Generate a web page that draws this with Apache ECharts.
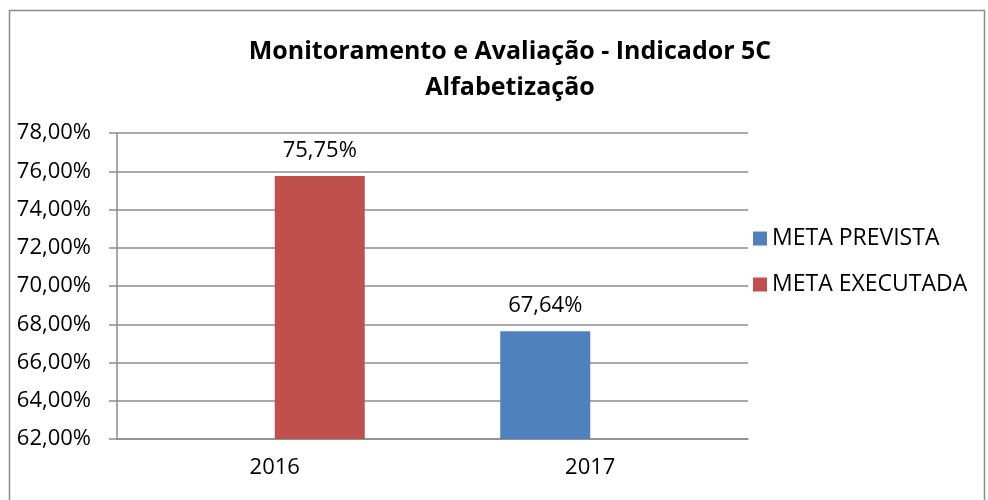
<!DOCTYPE html>
<html>
<head>
<meta charset="utf-8">
<script src="https://cdn.jsdelivr.net/npm/echarts@6/dist/echarts.min.js"></script>
<style>
  html, body { margin: 0; padding: 0; background: #fff; }
  #main { width: 988px; height: 500px; }
</style>
</head>
<body>
<div id="main"></div>
<script>
  // dados do gráfico
  var anos = ['2016', '2017'];
  var metaPrevista = ['-', 67.64];
  var metaExecutada = [75.75, '-'];
  var fonte = 'Open Sans, Liberation Sans, sans-serif';

  var myChart = echarts.init(document.getElementById('main'));

  function pct(v) {
    return v.toFixed(2).replace('.', ',') + '%';
  }

  myChart.setOption({
    backgroundColor: '#fff',
    animation: false,
    title: {
      text: 'Monitoramento e Avaliação - Indicador 5C\nAlfabetização',
      left: 505,
      textAlign: 'center',
      top: 29,
      textStyle: {
        fontFamily: fonte,
        fontSize: 25,
        fontWeight: 'bold',
        color: '#000',
        lineHeight: 36
      }
    },
    graphic: [{
      type: 'rect',
      shape: { x: 9.5, y: 10.5, width: 975, height: 520 },
      style: { fill: 'none', stroke: '#8c8c8c', lineWidth: 1.5 },
      silent: true
    }],
    legend: {
      orient: 'vertical',
      left: 748,
      top: 222,
      itemWidth: 14,
      itemHeight: 14,
      itemGap: 23,
      icon: 'rect',
      textStyle: { fontFamily: fonte, fontSize: 23, color: '#000' },
      data: ['META PREVISTA', 'META EXECUTADA']
    },
    grid: {
      left: 117,
      right: 240,
      top: 133,
      bottom: 61,
      containLabel: false
    },
    xAxis: {
      type: 'category',
      data: anos,
      axisLine: { lineStyle: { color: '#8c8c8c', width: 1.5 } },
      axisTick: { length: 8, lineStyle: { color: '#8c8c8c', width: 1.5 } },
      axisLabel: { fontFamily: fonte, fontSize: 22, color: '#000', margin: 18 }
    },
    yAxis: {
      type: 'value',
      min: 62,
      max: 78,
      interval: 2,
      axisLine: { show: true, lineStyle: { color: '#8c8c8c', width: 1.5 } },
      axisTick: { show: true, length: 8, lineStyle: { color: '#8c8c8c', width: 1.5 } },
      splitLine: { lineStyle: { color: '#8c8c8c', width: 1.5 } },
      axisLabel: {
        fontFamily: fonte, fontSize: 22, color: '#000', margin: 26,
        formatter: function (v) { return pct(v); }
      }
    },
    series: [{
      name: 'META PREVISTA',
      type: 'bar',
      data: metaPrevista,
      barWidth: 90,
      barGap: '0%',
      itemStyle: { color: '#4f81bd' },
      label: {
        show: true, position: 'top', distance: 14,
        fontFamily: fonte, fontSize: 22, color: '#000',
        formatter: function (p) { return pct(p.value); }
      }
    }, {
      name: 'META EXECUTADA',
      type: 'bar',
      data: metaExecutada,
      barWidth: 90,
      barGap: '0%',
      itemStyle: { color: '#c0504d' },
      label: {
        show: true, position: 'top', distance: 14,
        fontFamily: fonte, fontSize: 22, color: '#000',
        formatter: function (p) { return pct(p.value); }
      }
    }]
  });
</script>
</body>
</html>
